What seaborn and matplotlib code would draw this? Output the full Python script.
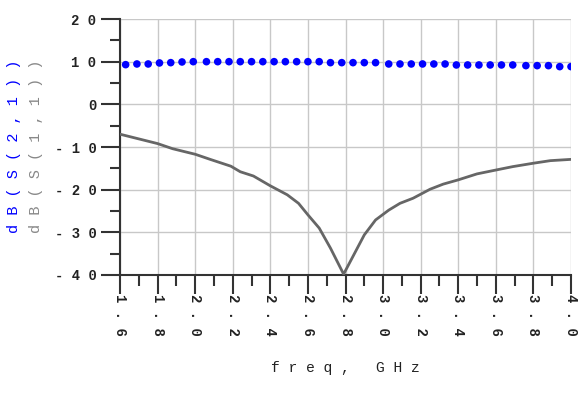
import numpy as np
import pandas as pd
import matplotlib
matplotlib.use("Agg")
import matplotlib.pyplot as plt
import seaborn as sns

# S21 samples (dots)
s21_freq = [1.63, 1.69, 1.75, 1.81, 1.87, 1.93, 1.99, 2.06, 2.12, 2.18,
            2.24, 2.30, 2.36, 2.42, 2.48, 2.54, 2.60, 2.66, 2.72, 2.78,
            2.84, 2.90, 2.96, 3.03, 3.09, 3.15, 3.21, 3.27, 3.33, 3.39,
            3.45, 3.51, 3.57, 3.63, 3.69, 3.76, 3.82, 3.88, 3.94, 4.00]
s21_db = [9.30, 9.46, 9.46, 9.70, 9.77, 9.93, 10.0, 10.0, 10.0, 10.0,
          10.0, 10.0, 10.0, 10.0, 10.0, 10.0, 10.0, 10.0, 9.77, 9.77,
          9.77, 9.77, 9.77, 9.46, 9.46, 9.46, 9.46, 9.46, 9.46, 9.23,
          9.23, 9.23, 9.23, 9.23, 9.23, 9.07, 9.07, 9.07, 8.84, 8.84]

# S11 (solid line)
s11_freq = [1.60, 1.70, 1.80, 1.88, 2.00, 2.08, 2.19, 2.24, 2.31, 2.40,
            2.49, 2.55, 2.60, 2.66, 2.72, 2.79, 2.90, 2.96, 3.03, 3.09,
            3.16, 3.25, 3.32, 3.40, 3.50, 3.60, 3.69, 3.80, 3.89, 4.00]
s11_db = [-7.0, -8.1, -9.2, -10.4, -11.7, -12.9, -14.5, -15.8, -16.8, -19.1,
          -21.2, -23.2, -25.9, -29.0, -33.7, -39.8, -30.6, -27.1, -24.8, -23.2,
          -22.0, -19.9, -18.7, -17.7, -16.3, -15.4, -14.6, -13.8, -13.2, -12.9]

x_ticks = [1.6, 1.8, 2.0, 2.2, 2.4, 2.6, 2.8, 3.0, 3.2, 3.4, 3.6, 3.8, 4.0]
y_ticks = [-40, -30, -20, -10, 0, 10, 20]

df21 = pd.DataFrame({"freq": s21_freq, "db": s21_db})
df11 = pd.DataFrame({"freq": s11_freq, "db": s11_db})

sns.set_style("white")
fig = plt.figure(figsize=(5.8, 3.94), dpi=100)
ax = fig.add_axes([120 / 580, 1 - 275 / 394, 451 / 580, 256 / 394])

sns.lineplot(data=df11, x="freq", y="db", ax=ax, color="#666666", linewidth=2, zorder=3)
sns.scatterplot(data=df21, x="freq", y="db", ax=ax, color="#0000ff", s=30,
                edgecolor="none", zorder=4)

ax.set_xlim(1.6, 4.0)
ax.set_ylim(-40, 20)
ax.set_xticks(x_ticks)
ax.set_yticks(y_ticks)
ax.set_xticks(np.arange(1.7, 4.0, 0.2), minor=True)
ax.set_yticks(np.arange(-35, 20, 10), minor=True)
ax.grid(True, which="major", color="#c8c8c8", linewidth=1)

tfont = dict(family="Liberation Mono", weight="bold", size=10)
ax.set_xticklabels([" . ".join([f"{t:.1f}"[0], f"{t:.1f}"[2]]) for t in x_ticks],
                   rotation=270, fontdict=tfont, color="#222222")
ax.set_yticklabels([" ".join(str(t)) for t in y_ticks], fontdict=tfont, color="#222222")

for side in ["top", "right"]:
    ax.spines[side].set_visible(False)
for side in ["left", "bottom"]:
    ax.spines[side].set_color("#333333")
    ax.spines[side].set_linewidth(1.5)

ax.tick_params(bottom=True, left=True, which="both")
ax.tick_params(which="major", direction="out", length=14, width=1.5, color="#333333", pad=3)
ax.tick_params(which="minor", direction="out", length=7, width=1.5, color="#333333")
ax.tick_params(axis="x", which="major", length=14, pad=0)
ax.tick_params(axis="x", which="minor", length=8)

ax.set_xlabel("f r e q ,   G H z", fontfamily="Liberation Mono", fontsize=10.5,
              color="#222222", labelpad=18)
ax.set_ylabel("")

fig.text(14 / 580, 1 - 146 / 394, "d B ( S ( 2 , 1 ) )", rotation=90, color="#0000ff",
         fontfamily="Liberation Mono", fontsize=11, ha="center", va="center")
fig.text(36 / 580, 1 - 146 / 394, "d B ( S ( 1 , 1 ) )", rotation=90, color="#888888",
         fontfamily="Liberation Mono", fontsize=11, ha="center", va="center")

fig.savefig("out.png", dpi=100)
